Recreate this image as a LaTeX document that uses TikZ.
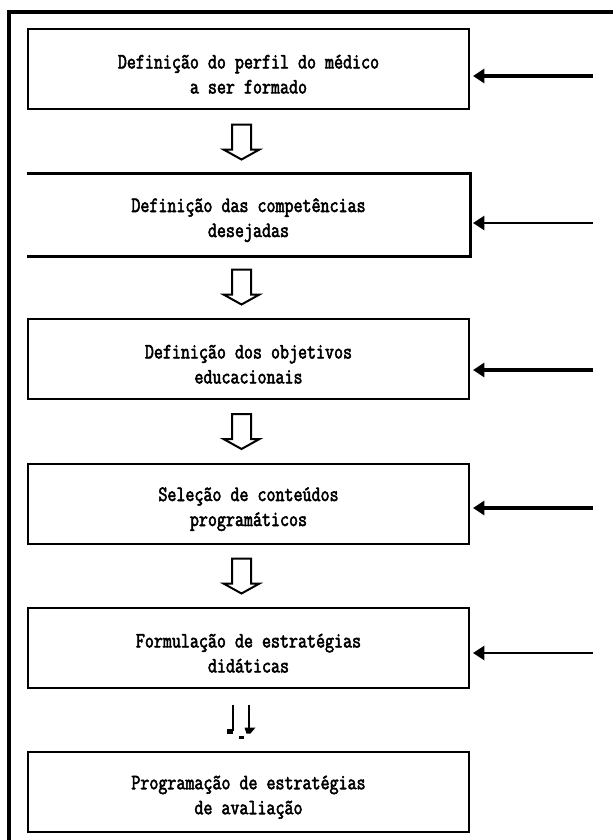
\documentclass[tikz,border=0pt]{standalone}
\usepackage{fontspec}
\newfontfamily\stagefont[FakeBold=2.5, FakeStretch=0.8]{Latin Modern Mono}
\usepackage{tikz}
\usetikzlibrary{calc}
\usetikzlibrary{arrows.meta}
\tikzset{
  stagebox/.style={draw, line width=2pt, minimum width=330.75pt, minimum height=60pt,
    inner sep=0pt, align=center, font=\stagefont\fontsize{16.4pt}{18.75pt}\selectfont},
  feedline/.style={-{Triangle[length=8.5pt,width=10.5pt]}, shorten >=2pt},
  hollow/.style={draw, line width=1.5pt, fill=white, line join=miter}
}
\newcommand{\stage}[4]{\node[stagebox] (#1) at (248.5,#2) {\rule{0pt}{18pt}#3\\#4};}
\newcommand{\feed}[4]{\coordinate (#1) at (593,#2); \draw[feedline, line width=#4] (#1) -- (#1 -| #3.east);}
\newcommand{\blockarrow}[2]{
  \coordinate (mid) at ($(#1.south)!0.5!(#2.north)+(-7,0)$);
  \draw[hollow] ($(mid)+(-9.5,-17.5)$) -- ++(19,0) -- ++(0,25) -- ++(8.5,0) -- ++(-18,10)
    -- ++(-18,-10) -- ++(8.5,0) -- cycle;}

\begin{document}
\begin{tikzpicture}[x=0.75pt, y=-0.75pt]
\useasboundingbox (0,0) rectangle (613,840);
% outer frame
\draw[line width=2.4pt] (9,840) -- (9,12) -- (613,12);
% stages
\stage{perfil}{69}{Definição do perfil do médico}{a ser formado}
\node[stagebox, draw=none] (comp) at (248.5,215) {\rule{0pt}{18pt}Definição das competências\\desejadas};
\draw[line width=2pt] (comp.north west) -- (comp.north east) -- (comp.south east) -- (comp.south west);
\stage{obj}{359}{Definição dos objetivos}{educacionais}
\stage{cont}{504}{Seleção de conteúdos}{programáticos}
\stage{form}{648}{Formulação de estratégias}{didáticas}
\stage{prog}{792}{Programação de estratégias}{de avaliação}
% inputs from the right
\feed{in1}{76}{perfil}{2.6pt}
\feed{in2}{223}{comp}{1.8pt}
\feed{in3}{370}{obj}{2.6pt}
\feed{in4}{508}{cont}{2.6pt}
\feed{in5}{653}{form}{1.8pt}
% arrows between stages
\blockarrow{perfil}{comp}
\blockarrow{comp}{obj}
\blockarrow{obj}{cont}
\blockarrow{cont}{form}
% last arrow, broken
\coordinate (gap5) at ($(form.south)!0.5!(prog.north)+(-7,0)$);
\draw[line width=1.2pt] ($(gap5)+(-8.5,-15.5)$) -- ++(0,26);
\draw[line width=2.2pt] ($(gap5)+(7.5,-15.5)$) -- ++(0,28);
\fill ($(gap5)+(-14.5,8.5)$) rectangle ++(6,5);
\fill ($(gap5)+(-3,15.5)$) rectangle ++(5,3);
\fill ($(gap5)+(3,7.5)$) -- ++(11,0) -- ++(-5,6) -- ++(-4,0) -- cycle;
\end{tikzpicture}
\end{document}
